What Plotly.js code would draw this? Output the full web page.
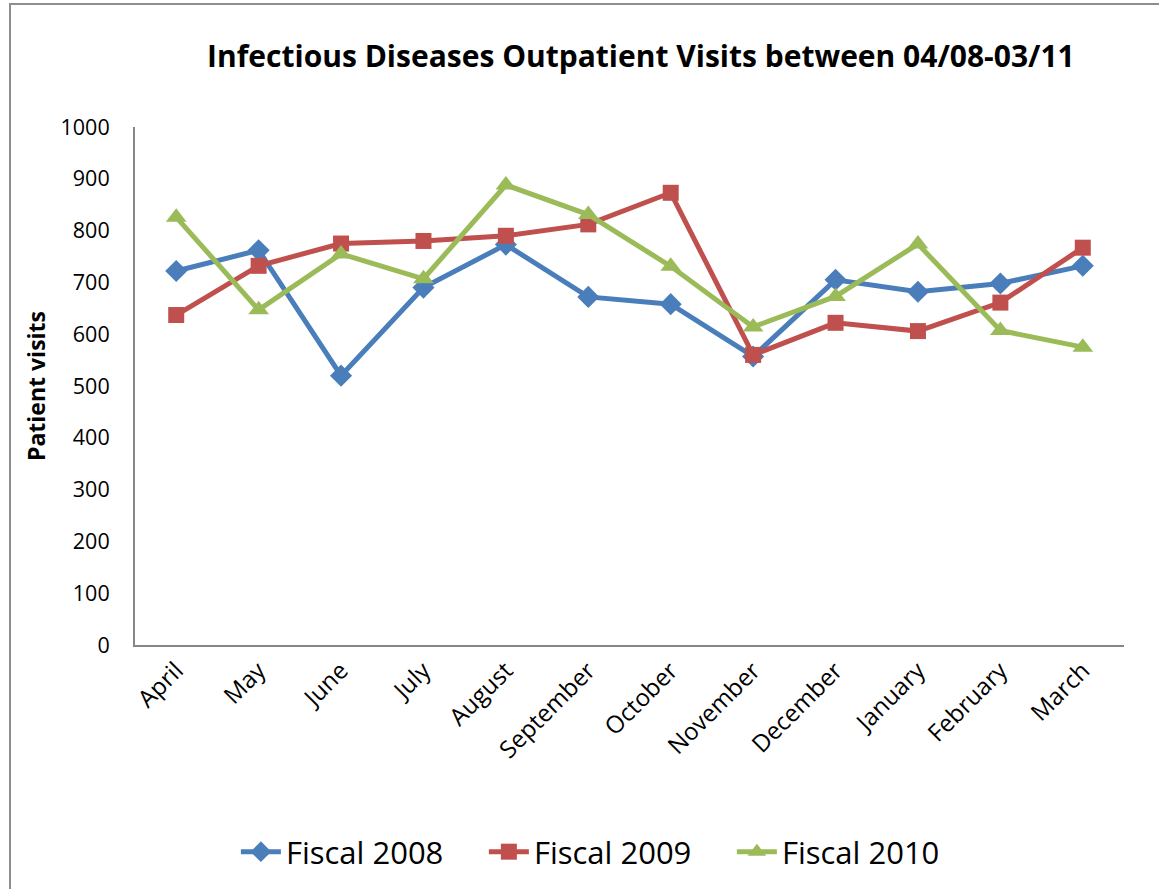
<!DOCTYPE html>
<html>
<head>
<meta charset="utf-8">
<script src="https://cdn.plot.ly/plotly-3.0.1.min.js"></script>
<style>
  html, body { margin: 0; padding: 0; background: #fff; }
  #wrap { position: relative; width: 1159px; height: 889px; overflow: hidden; }
  #frame { position: absolute; left: 9px; top: 3px; width: 1200px; height: 950px;
           border-left: 2px solid #8e8e8e; border-top: 2px solid #8e8e8e; box-sizing: border-box; }
  #chart { position: absolute; left: 0; top: 0; width: 1159px; height: 889px; }
</style>
</head>
<body>
<div id="wrap">
  <div id="frame"></div>
  <div id="chart"></div>
</div>
<script>
const months = ["April","May","June","July","August","September","October","November","December","January","February","March"];
const fiscal2008 = [722, 762, 520, 690, 773, 672, 658, 557, 705, 682, 698, 732];
const fiscal2009 = [637, 732, 775, 780, 790, 812, 873, 560, 622, 606, 661, 767];
const fiscal2010 = [826, 647, 755, 707, 888, 831, 731, 614, 673, 774, 607, 575];
const yTicks = [0, 100, 200, 300, 400, 500, 600, 700, 800, 900, 1000];

const FONT = "'Open Sans', 'Noto Sans', sans-serif";

function series(name, y, color, symbol, size) {
  return {
    type: "scatter", mode: "lines+markers", name: name,
    x: months, y: y,
    line: { color: color, width: 5 },
    marker: { color: color, symbol: symbol, size: size }
  };
}

const data = [
  series("Fiscal 2008", fiscal2008, "#4A7EBB", "diamond", 17),
  series("Fiscal 2009", fiscal2009, "#C0504D", "square", 16),
  series("Fiscal 2010", fiscal2010, "#9BBB59", "triangle-up", 18)
];

const layout = {
  width: 1159, height: 889,
  paper_bgcolor: "rgba(0,0,0,0)", plot_bgcolor: "rgba(0,0,0,0)",
  margin: { l: 135, r: 35, t: 127, b: 243 },
  font: { family: FONT, color: "#000" },
  title: {
    text: "<b>Infectious Diseases Outpatient Visits between 04/08-03/11</b>",
    font: { family: FONT, size: 30, color: "#000" },
    xref: "container", x: 0.553, xanchor: "center",
    yref: "container", y: 0.936, yanchor: "middle"
  },
  xaxis: {
    type: "category", categoryarray: months,
    range: [-0.5, 11.5],
    showline: true, linecolor: "#868686", linewidth: 2,
    showgrid: false, zeroline: false, ticks: "",
    tickangle: -45,
    tickfont: { family: FONT, size: 24, color: "#000" }
  },
  yaxis: {
    range: [0, 1000], tickvals: yTicks,
    showline: true, linecolor: "#868686", linewidth: 2,
    showgrid: false, zeroline: false, ticks: "",
    ticklabelstandoff: 19,
    tickfont: { family: FONT, size: 21.5, color: "#000" },
    title: { text: "<b>Patient visits</b>", font: { family: FONT, size: 23, color: "#000" }, standoff: 8 }
  },
  showlegend: true,
  legend: {
    orientation: "h", x: 0.102, xanchor: "left", y: -0.397, yanchor: "middle",
    font: { family: FONT, size: 31, color: "#000" },
    entrywidth: 193, entrywidthmode: "pixels",
    itemwidth: 40, tracegroupgap: 0
  }
};

Plotly.newPlot("chart", data, layout, { displayModeBar: false, staticPlot: true });
</script>
</body>
</html>
